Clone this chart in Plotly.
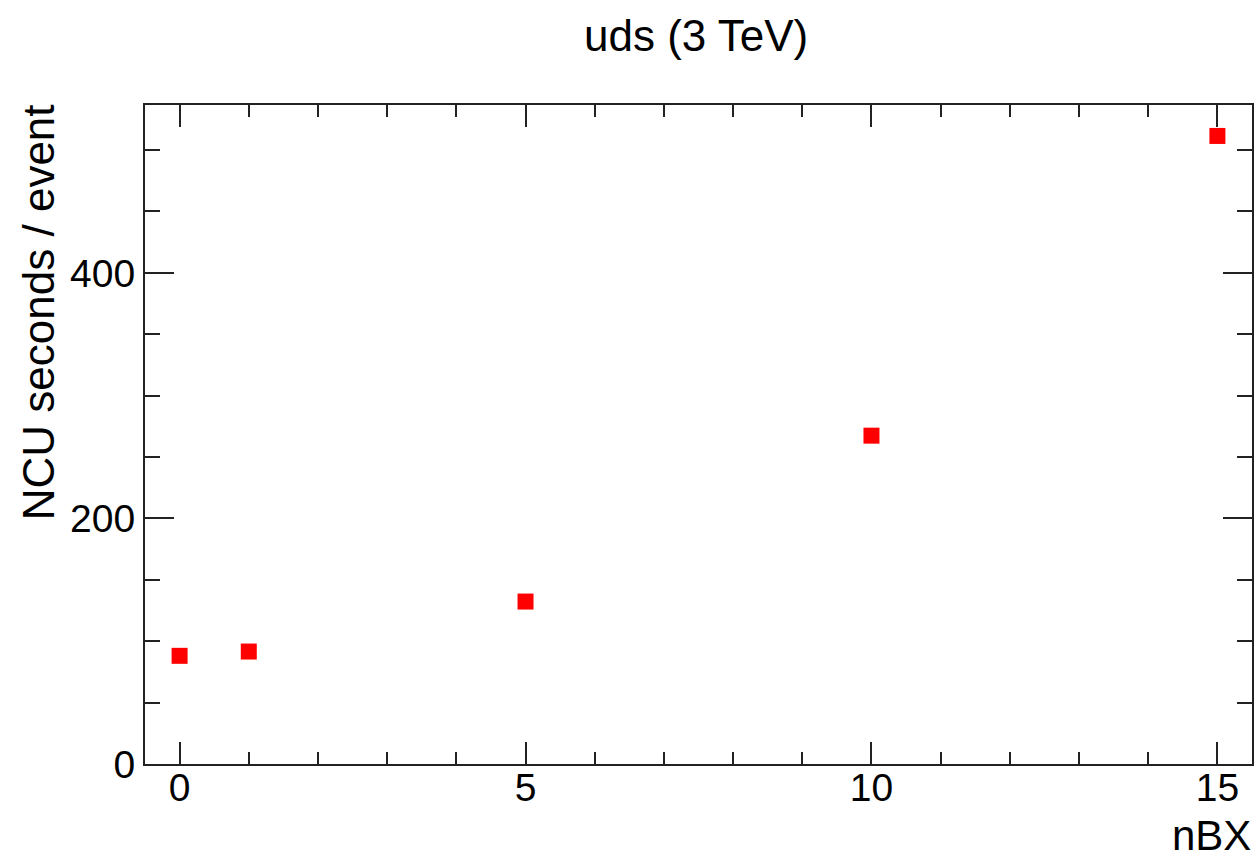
import plotly.graph_objects as go

# Data
nbx = [0, 1, 5, 10, 15]
ncu_seconds = [88.1, 91.6, 132.3, 267.4, 511.5]

title_text = "uds (3 TeV)"
x_label = "nBX"
y_label = "NCU seconds / event"

FONT = "Liberation Sans, Arial, Helvetica, sans-serif"
AX = "#222222"
TICK_SIZE = 39
TITLE_SIZE = 44

fig = go.Figure()
fig.add_trace(go.Scatter(
    x=nbx, y=ncu_seconds, mode="markers",
    marker=dict(symbol="square", size=16, color="#ff0000", line=dict(width=0)),
    showlegend=False,
))

fig.update_layout(
    width=1257, height=860,
    margin=dict(l=145, r=3, t=105, b=96),
    paper_bgcolor="white", plot_bgcolor="white",
    font=dict(family=FONT, size=TICK_SIZE, color="black"),
    xaxis=dict(
        range=[-0.5, 15.5], tickmode="linear", tick0=0, dtick=5,
        ticks="inside", ticklen=22, tickwidth=2, tickcolor=AX,
        minor=dict(dtick=1, tick0=0, ticks="inside", ticklen=12, tickwidth=2, tickcolor=AX, showgrid=False),
        showline=True, linewidth=2, linecolor=AX, mirror="ticks",
        showgrid=False, zeroline=False, ticklabelstandoff=-12,
        tickfont=dict(family=FONT, size=TICK_SIZE, color="black"),
    ),
    yaxis=dict(
        range=[0, 536.7], tickmode="linear", tick0=0, dtick=200,
        ticks="inside", ticklen=29, tickwidth=2, tickcolor=AX,
        minor=dict(dtick=50, tick0=0, ticks="inside", ticklen=15, tickwidth=2, tickcolor=AX, showgrid=False),
        showline=True, linewidth=2, linecolor=AX, mirror="ticks",
        showgrid=False, zeroline=False,
        tickfont=dict(family=FONT, size=TICK_SIZE, color="black"),
    ),
    annotations=[
        dict(text=title_text, xref="paper", yref="paper", x=(697 - 145) / 1109, y=1 + (104.7 - 35) / 659.6,
             xanchor="center", yanchor="middle", showarrow=False,
             font=dict(family=FONT, size=TITLE_SIZE, color="black")),
        dict(text=y_label, xref="paper", yref="paper", x=(38 - 145) / 1109, y=1.0 + 3 / 659.6,
             xanchor="center", yanchor="top", textangle=-90, showarrow=False,
             font=dict(family=FONT, size=TITLE_SIZE, color="black")),
        dict(text=x_label, xref="paper", yref="paper", x=1.0, y=(764.3 - 860) / 659.6,
             xanchor="right", yanchor="bottom", showarrow=False, borderpad=0,
             font=dict(family=FONT, size=42, color="black")),
    ],
)

fig.write_html("out.html")
